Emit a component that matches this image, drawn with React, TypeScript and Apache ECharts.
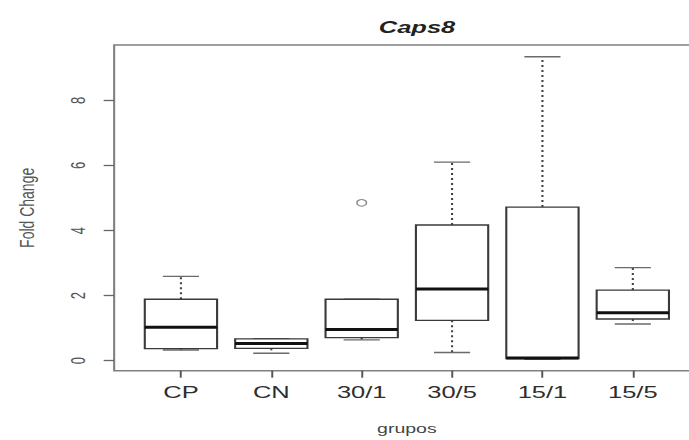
import React, { useEffect, useRef } from "react";
import * as echarts from "echarts";

const categories = ["CP", "CN", "30/1", "30/5", "15/1", "15/5"];
const lowerWhisker = [0.33, 0.23, 0.64, 0.25, 0.04, 1.13];
const lowerQuartile = [0.37, 0.38, 0.71, 1.24, 0.07, 1.28];
const medians = [1.03, 0.53, 0.96, 2.2, 0.08, 1.47];
const upperQuartile = [1.89, 0.67, 1.89, 4.17, 4.72, 2.17];
const upperWhisker = [2.59, 0.68, 1.89, 6.1, 9.34, 2.86];
const outlierGroups = ["30/1"];
const outlierValues = [4.85];
const yTicks = [0, 2, 4, 6, 8];

const TITLE = "Caps8";
const X_NAME = "grupos";
const Y_NAME = "Fold Change";

const STRETCH = 1.5;
const INNER_W = 480;
const H = 440;
const FONT = "'Liberation Sans', Arial, sans-serif";

export default function App() {
  const ref = useRef<HTMLDivElement>(null);

  useEffect(() => {
    if (!ref.current) return;
    const chart = echarts.init(ref.current, undefined, { renderer: "svg" });

    const boxData = categories.map((_, i) => [
      i,
      lowerWhisker[i],
      lowerQuartile[i],
      medians[i],
      upperQuartile[i],
      upperWhisker[i],
    ]);
    const outlierData = outlierGroups.map((g, k) => [categories.indexOf(g), outlierValues[k]]);
    const xPositions = categories.map((_, i) => i);

    const option: any = {
      animation: false,
      backgroundColor: "#ffffff",
      title: {
        text: TITLE,
        left: 273,
        top: 14,
        textAlign: "center",
        textStyle: {
          fontFamily: FONT,
          fontSize: 17,
          fontWeight: "bold",
          fontStyle: "italic",
          color: "#222",
        },
      },
      grid: {
        left: 76.1,
        right: INNER_W - 466.4,
        top: 45,
        bottom: H - 370.7,
        show: true,
        borderColor: "#808080",
        borderWidth: 1.4,
        backgroundColor: "transparent",
      },
      xAxis: {
        type: "value",
        min: -0.739,
        max: 5.739,
        name: X_NAME,
        nameLocation: "middle",
        nameGap: 51,
        nameTextStyle: { fontFamily: FONT, fontSize: 13, color: "#444" },
        axisLine: { show: false, onZero: false },
        splitLine: { show: false },
        axisTick: {
          show: true,
          length: 7,
          customValues: xPositions,
          lineStyle: { color: "#555", width: 1.3 },
        },
        axisLabel: {
          customValues: xPositions,
          margin: 13,
          fontFamily: FONT,
          fontSize: 17,
          color: "#2e2e2e",
          formatter: (v: number) => categories[Math.round(v)] ?? "",
        },
      },
      yAxis: {
        type: "value",
        min: -0.307,
        max: 9.7,
        name: Y_NAME,
        nameLocation: "middle",
        nameRotate: 90,
        nameGap: 51,
        nameTextStyle: { fontFamily: FONT, fontSize: 14, color: "#555" },
        axisLine: { show: false, onZero: false },
        splitLine: { show: false },
        axisTick: {
          show: true,
          length: 7,
          customValues: yTicks,
          lineStyle: { color: "#666", width: 1.3 },
        },
        axisLabel: {
          customValues: yTicks,
          rotate: 90,
          margin: 17,
          fontFamily: FONT,
          fontSize: 13,
          color: "#555",
        },
      },
      series: [
        {
          type: "custom",
          data: boxData,
          encode: { x: 0, y: [1, 2, 3, 4, 5] },
          renderItem: (params: any, api: any) => {
            const i = api.value(0);
            const lo = api.value(1);
            const q1 = api.value(2);
            const med = api.value(3);
            const q3 = api.value(4);
            const hi = api.value(5);
            const cx = api.coord([i, med])[0];
            const yLo = api.coord([i, lo])[1];
            const yQ1 = api.coord([i, q1])[1];
            const yMed = api.coord([i, med])[1];
            const yQ3 = api.coord([i, q3])[1];
            const yHi = api.coord([i, hi])[1];
            const bw = api.size([1, 0])[0] * 0.8;
            const half = bw / 2;
            const capHalf = bw / 4;
            const whiskerStyle = { stroke: "#444", lineWidth: 1.4, lineDash: [2, 3], fill: "none" };
            const capStyle = { stroke: "#6a6a6a", lineWidth: 1.4, fill: "none" };
            const children: any[] = [];
            if (yHi < yQ3 - 0.5) {
              children.push({ type: "line", shape: { x1: cx, y1: yQ3, x2: cx, y2: yHi }, style: whiskerStyle });
            }
            if (yLo > yQ1 + 0.5) {
              children.push({ type: "line", shape: { x1: cx, y1: yQ1, x2: cx, y2: yLo }, style: whiskerStyle });
            }
            children.push({ type: "line", shape: { x1: cx - capHalf, y1: yHi, x2: cx + capHalf, y2: yHi }, style: capStyle });
            children.push({ type: "line", shape: { x1: cx - capHalf, y1: yLo, x2: cx + capHalf, y2: yLo }, style: capStyle });
            children.push({
              type: "rect",
              shape: { x: cx - half, y: yQ3, width: bw, height: yQ1 - yQ3 },
              style: { fill: "#ffffff", stroke: "#3a3a3a", lineWidth: 1.4 },
            });
            children.push({
              type: "line",
              shape: { x1: cx - half, y1: yMed, x2: cx + half, y2: yMed },
              style: { stroke: "#111", lineWidth: 3 },
            });
            return { type: "group", children };
          },
          z: 2,
        },
        {
          type: "scatter",
          data: outlierData,
          symbol: "circle",
          symbolSize: 6.5,
          itemStyle: { color: "#ffffff", borderColor: "#666", borderWidth: 1 },
          z: 3,
        },
      ],
    };

    chart.setOption(option);
    return () => chart.dispose();
  }, []);

  return (
    <div
      style={{
        position: "fixed",
        left: 0,
        top: 0,
        width: 689,
        height: H,
        overflow: "hidden",
        background: "#ffffff",
      }}
    >
      <div
        ref={ref}
        style={{
          width: INNER_W,
          height: H,
          transform: `scaleX(${STRETCH})`,
          transformOrigin: "0 0",
        }}
      />
    </div>
  );
}
